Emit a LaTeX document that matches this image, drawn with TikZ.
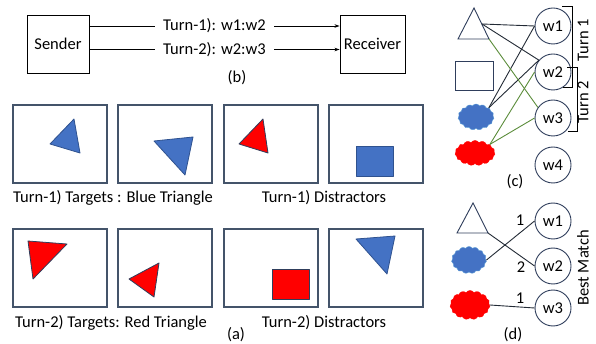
\documentclass[tikz,border=0pt]{standalone}
\usepackage{fontspec}
\setmainfont{Carlito}
\usetikzlibrary{arrows.meta,shapes.symbols}
\definecolor{boxgray}{HTML}{44546A}
\definecolor{navy}{HTML}{2F3E5C}
\definecolor{shapeblue}{HTML}{4472C4}
\definecolor{shapeedge}{HTML}{2F528F}
\definecolor{cloudedge}{HTML}{5B9BD5}
\definecolor{linkgreen}{HTML}{5B8C3A}
\definecolor{linkdark}{HTML}{222A35}
\begin{document}
\begin{tikzpicture}[x=1pt,y=-1pt,
    every node/.style={font=\fontsize{16.5}{19}\selectfont},
    agent/.style={draw,minimum height=58pt,inner sep=0pt,line width=0.9pt},
    msg/.style={-{Stealth[length=5pt,width=3.5pt]},line width=0.9pt},
    lbl/.style={fill=white,inner xsep=8pt,inner ysep=1pt},
    imgbox/.style={draw=boxgray,line width=1.1pt},
    bluetri/.style={fill=shapeblue,draw=shapeedge,line width=0.8pt,line join=round},
    redtri/.style={fill=red,draw=navy,line width=0.8pt,line join=round},
    outline/.style={draw=navy,line width=0.9pt},
    word/.style={circle,draw=navy,line width=0.9pt,minimum size=36pt,inner sep=0pt},
    puff/.style={cloud,cloud puffs=15,cloud puff arc=115,inner sep=0pt},
    link/.style={draw=linkdark,line width=0.9pt},
    glink/.style={draw=linkgreen,line width=0.9pt},
    bracket/.style={draw=black,line width=0.9pt}]
    \useasboundingbox (0,0) rectangle (596,344);
    % (b) Sender / Receiver
    \node[agent,minimum width=62pt] (snd) at (58,44) {Sender};
    \node[agent,minimum width=65pt] (rcv) at (372.5,44) {Receiver};
    \draw[msg] ([yshift=18pt]snd.east) -- node[lbl] (m1) {Turn-1): w1:w2} ([yshift=18pt]rcv.west);
    \draw[msg] ([yshift=-5.5pt]snd.east) -- node[lbl] (m2) {Turn-2): w2:w3} ([yshift=-5.5pt]rcv.west);
    \node (capb) at (237,78) {(b)};
    % (a) Bilder
    \foreach \x in {13,118,224,329} {
        \draw[imgbox] (\x,105) rectangle ++(94,78);
        \draw[imgbox] (\x,229) rectangle ++(94,78);
    }
    % Turn 1
    \filldraw[bluetri] (50,144) -- (74,119) -- (80,153) -- cycle;
    \filldraw[bluetri] (154,141) -- (193,137) -- (185,175) -- cycle;
    \filldraw[redtri] (239,144) -- (263,119) -- (268,153) -- cycle;
    \filldraw[bluetri] (356,146) rectangle (393,176);
    \node (t1tgt) at (113,198) {Turn-1) Targets : Blue Triangle};
    \node (t1dis) at (324,198) {Turn-1) Distractors};
    % Turn 2
    \filldraw[redtri] (28,241) -- (67,244) -- (33,279) -- cycle;
    \filldraw[redtri] (129,279) -- (159,263) -- (154,297) -- cycle;
    \filldraw[redtri] (272,269) rectangle (309,299);
    \filldraw[bluetri] (356,239) -- (395,236) -- (387,274) -- cycle;
    \node (t2tgt) at (111,323) {Turn-2) Targets: Red Triangle};
    \node (t2dis) at (324,323) {Turn-2) Distractors};
    \node[inner sep=0pt] (capa) at (236,335) {(a)};
    % (c) Zuordnung
    \draw[outline] (474,8) -- (458,39) -- (489,39) -- cycle;
    \coordinate (tri) at (482,24);
    \coordinate (trc) at (489,39);
    \draw[outline] (455,61) rectangle (493,90);
    \node[puff,fill=shapeblue,draw=cloudedge,minimum width=36pt,minimum height=26pt] (bc) at (476,117) {};
    \node[puff,fill=red,draw=red,minimum width=40pt,minimum height=25pt] (rc) at (475,153) {};
    \node[word] (w1) at (553,26) {w1};
    \node[word] (w2) at (553,72) {w2};
    \node[word] (w3) at (553,118) {w3};
    \node[word] (w4) at (553,165) {w4};
    \draw[link] (tri) -- (w1.west);
    \draw[link] (tri) -- (w2.140);
    \draw[link] (bc.north east) -- (w1.west);
    \draw[link] (bc.north east) -- (w2.140);
    \draw[glink] (trc) -- (w3.145);
    \draw[glink] (rc.30) -- (w2.west);
    \draw[glink] (rc.30) -- (w3.west);
    \draw[bracket] (562,6) -- (572,6) -- (572,87) -- (563,87);
    \draw[bracket] (567,67) -- (577,67) -- (577,131) -- (568,131);
    \node[rotate=90] (turn1) at (583,40) {Turn 1};
    \node[rotate=90] (turn2) at (583,102) {Turn 2};
    \node (capc) at (515,182) {(c)};
    % (d) Best Match
    \draw[outline] (473,203) -- (457,233) -- (488,233) -- cycle;
    \coordinate (trd) at (488,233);
    \node[puff,fill=shapeblue,draw=cloudedge,minimum width=35pt,minimum height=27pt] (bd) at (469,260) {};
    \node[puff,fill=red,draw=red,minimum width=40pt,minimum height=29pt] (rd) at (470,305) {};
    \node[word] (v1) at (553,221) {w1};
    \node[word] (v2) at (553,266) {w2};
    \node[word] (v3) at (553,308) {w3};
    \draw[link] (trd) -- (v2.west);
    \draw[link] (bd.east) -- (v1.west);
    \draw[link] (rd.east) -- (v3.west);
    \node (n1) at (520,220) {1};
    \node (n2) at (521,267) {2};
    \node (n3) at (520,298) {1};
    \node[rotate=90] (best) at (583,268) {Best Match};
    \node (capd) at (513,335) {(d)};
\end{tikzpicture}
\end{document}
